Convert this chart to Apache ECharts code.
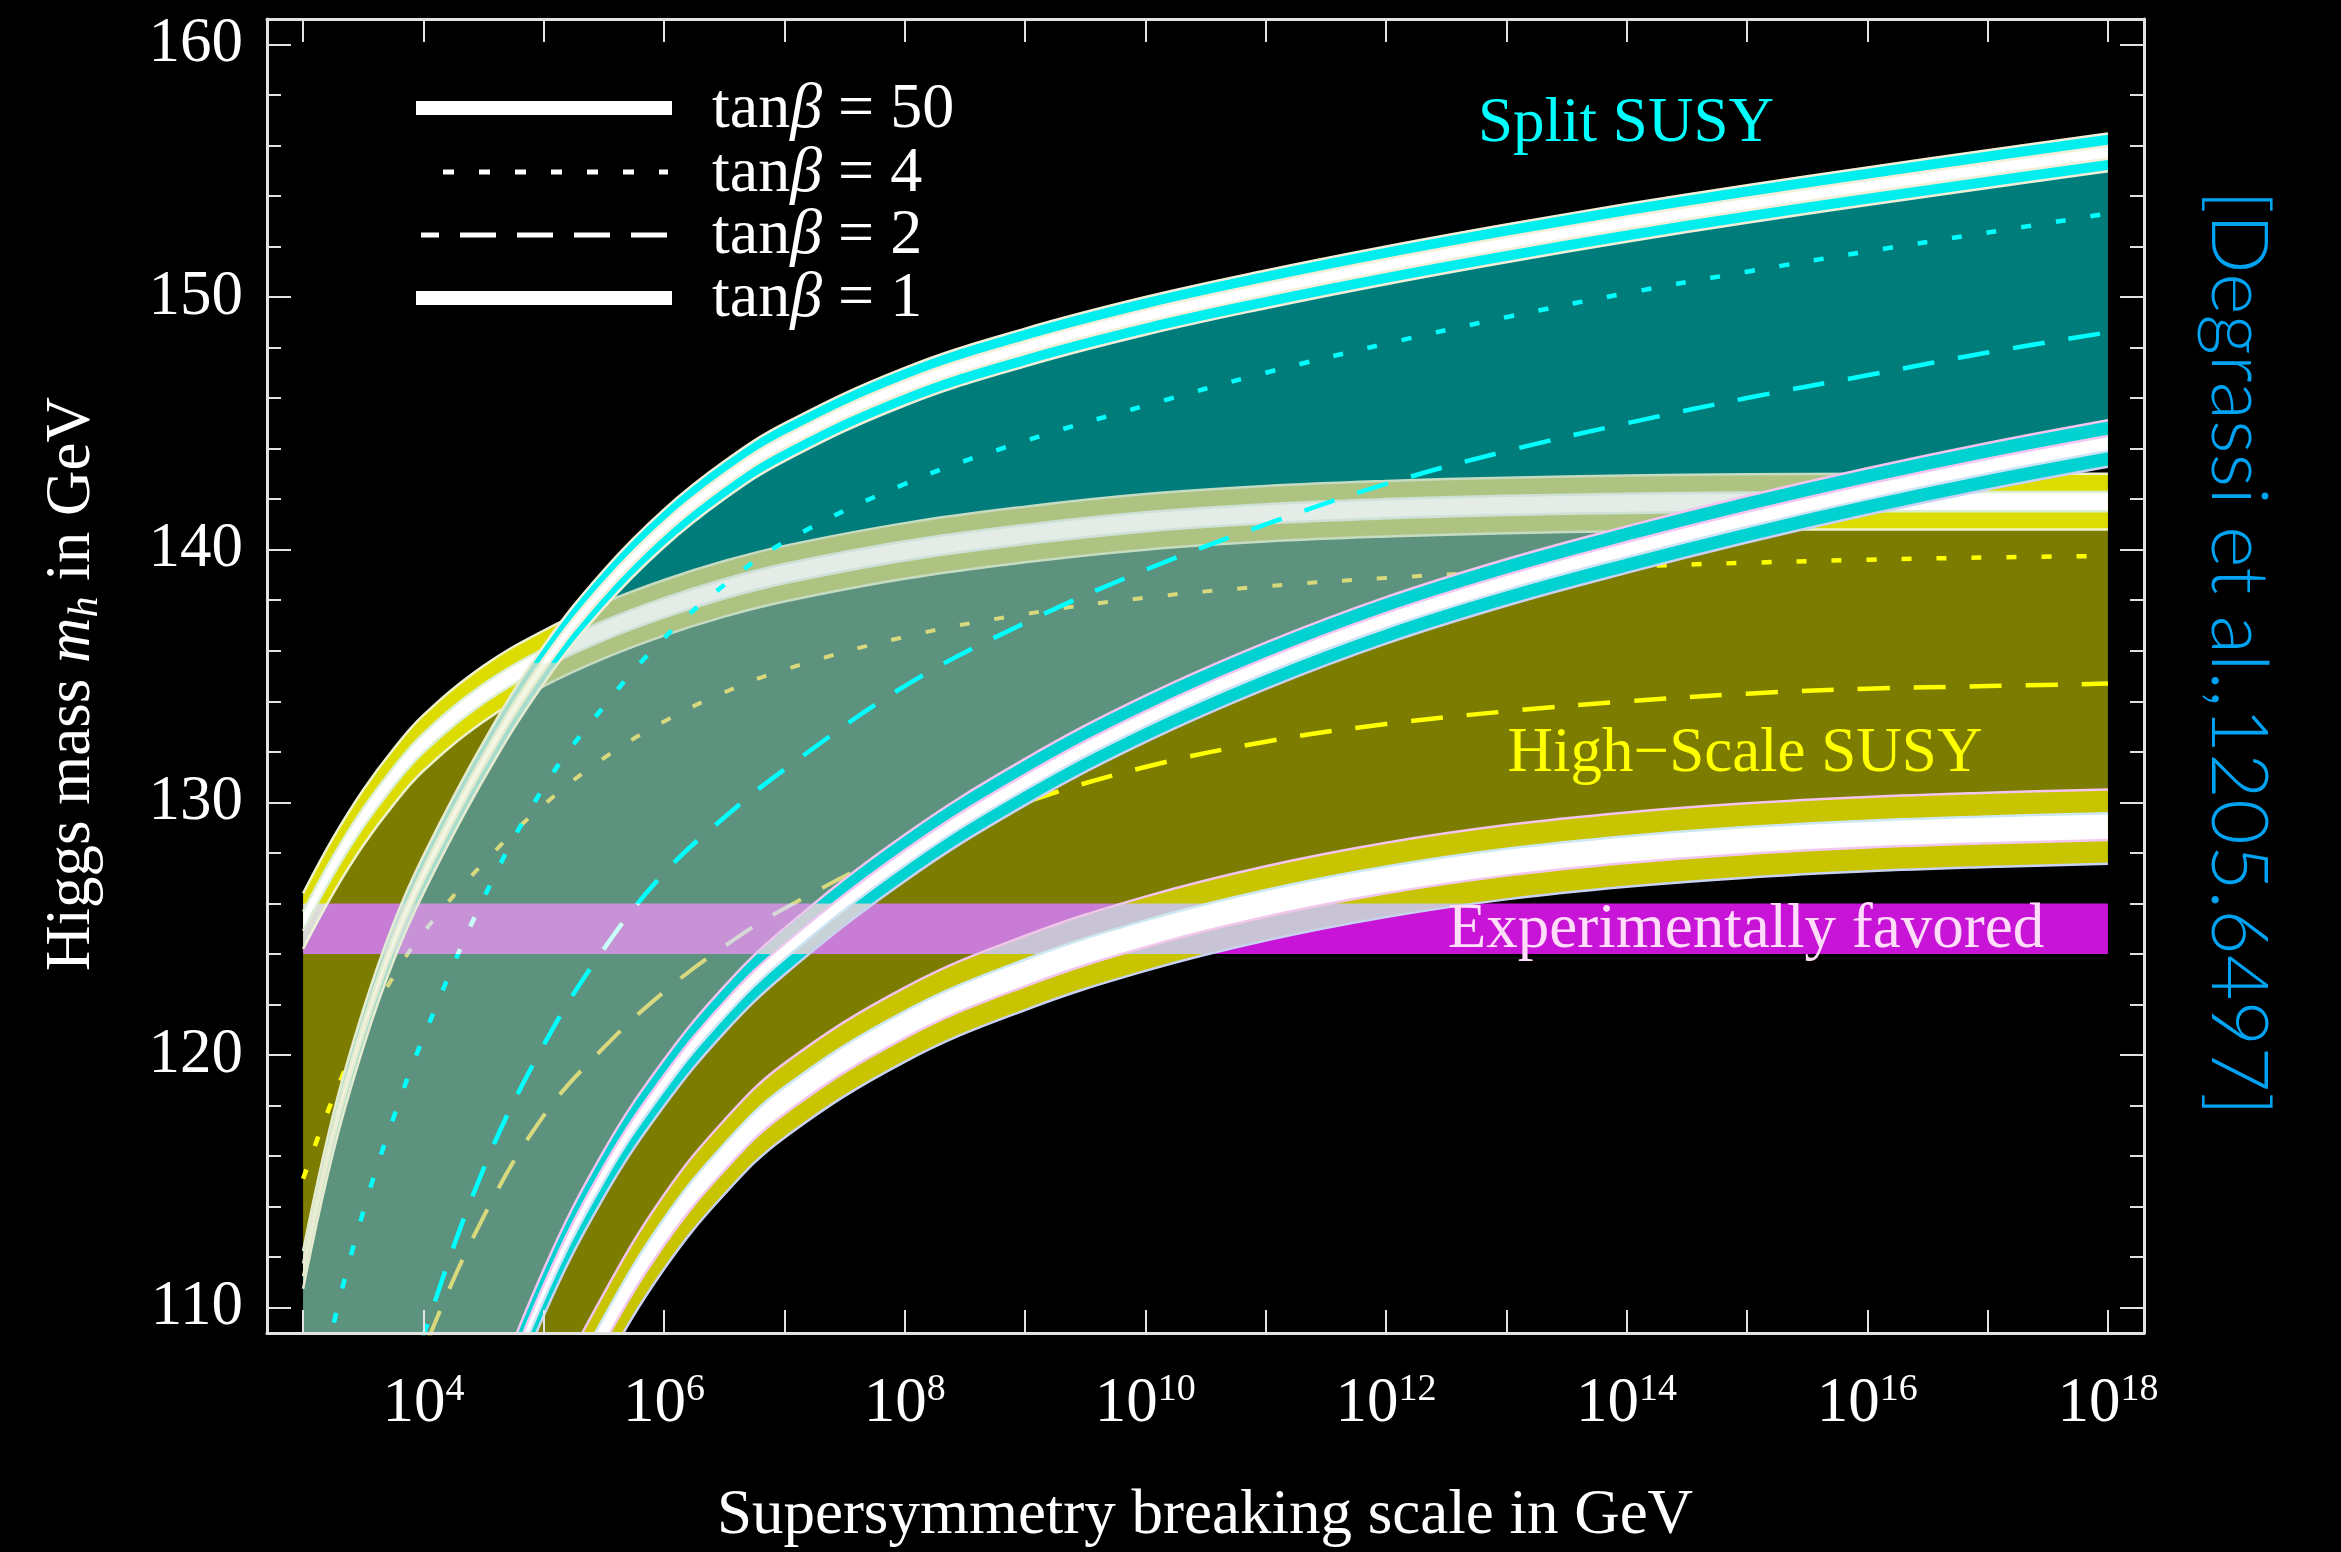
<!DOCTYPE html>
<html>
<head>
<meta charset="utf-8">
<title>Higgs mass versus supersymmetry breaking scale</title>
<script src="https://cdn.jsdelivr.net/npm/echarts@6/dist/echarts.min.js"></script>
<style>
  html, body { margin: 0; padding: 0; background: #000; }
  #chart { width: 2341px; height: 1552px; background: #000; }
</style>
</head>
<body>
<div id="chart"></div>
<script>
// ---------------- data ----------------
// log10 of the supersymmetry breaking scale (GeV)
const logScale = [3, 3.25, 3.5, 3.75, 4, 4.5, 5, 5.5, 6, 6.5, 7, 8, 9, 10, 11, 12, 13, 14, 15, 16, 17, 18];

// Split SUSY: Higgs mass (GeV) for tanβ = 50, 4, 2, 1
const splitTb50 = [111.5, 116.9, 121.05, 124.45, 127.15, 131.65, 135.45, 138.45, 140.85, 142.75, 144.25, 146.45, 148.0, 149.25, 150.3, 151.25, 152.12, 152.93, 153.68, 154.38, 155.06, 155.72];
const splitTb4  = [104.0, 109.3, 113.8, 117.5, 120.7, 126.2, 130.6, 133.8, 136.5, 138.6, 140.3, 142.6, 144.3, 145.7, 147.0, 148.15, 149.2, 150.15, 151.0, 151.8, 152.55, 153.3];
const splitTb2  = [91.0, 96.0, 100.5, 105.0, 108.9, 115.5, 120.4, 124.2, 127.2, 129.4, 131.3, 134.6, 137.1, 139.2, 141.0, 142.6, 143.9, 145.0, 146.0, 146.9, 147.8, 148.6];
const splitTb1  = [80.0, 84.5, 89.0, 93.0, 97.0, 104.5, 110.6, 115.3, 118.9, 121.8, 124.1, 127.8, 130.8, 133.3, 135.4, 137.2, 138.7, 140.0, 141.2, 142.3, 143.3, 144.2];

// High-scale SUSY: Higgs mass (GeV) for tanβ = 50, 4, 2, 1
const highTb50 = [125.3, 127.5, 129.4, 131.0, 132.35, 134.3, 135.7, 136.8, 137.7, 138.45, 139.05, 139.95, 140.6, 141.1, 141.42, 141.62, 141.75, 141.83, 141.88, 141.9, 141.9, 141.9];
const highTb4  = [115.1, 118.3, 120.95, 123.1, 124.85, 127.6, 129.9, 131.75, 133.2, 134.35, 135.25, 136.55, 137.45, 138.1, 138.55, 138.88, 139.13, 139.33, 139.48, 139.6, 139.69, 139.75];
const highTb2  = [94.0, 98.0, 101.5, 105.0, 108.3, 113.6, 117.6, 120.3, 122.5, 124.3, 125.8, 128.2, 130.0, 131.4, 132.4, 133.1, 133.6, 134.0, 134.3, 134.5, 134.6, 134.7];
const highTb1  = [74.0, 78.0, 82.0, 86.0, 92.0, 98.5, 104.4, 109.1, 113.0, 115.95, 118.2, 121.2, 123.25, 124.8, 126.0, 126.93, 127.63, 128.13, 128.49, 128.74, 128.91, 129.04];

// theory uncertainty half-widths (GeV): [outer band, inner core]
const splitTb50Spread = [0.745, 0.25];
const splitTb1Spread  = [0.92, 0.30];
const highTb50Spread  = [1.10, 0.38];
const highTb1Spread   = [1.47, 0.53];

// experimentally favoured Higgs mass window
const favoredScale = [3, 18];
const favoredLow   = [124, 124];
const favoredHigh  = [126, 126];

// axis ticks
const decadeTicks  = [3, 4, 5, 6, 7, 8, 9, 10, 11, 12, 13, 14, 15, 16, 17, 18];
const decadeLabels = [4, 6, 8, 10, 12, 14, 16, 18];
const massMajor = [110, 120, 130, 140, 150, 160];
const massMinor = [112, 114, 116, 118, 122, 124, 126, 128, 132, 134, 136, 138, 142, 144, 146, 148, 152, 154, 156, 158];

// ---------------- styling helpers ----------------
const SERIF = '"Liberation Serif", "Times New Roman", Times, serif';
const FRAME = '#e2e2e2';
const SMOOTH = 0.4;
const EDGE = 2.5;

const lineBase = { type: 'line', symbol: 'none', silent: true, smooth: SMOOTH, clip: true,
  animation: false, xAxisIndex: 0, yAxisIndex: 0, emphasis: { disabled: true } };

const series = [];
function add(list) { const first = series.length; series.push(...list); return first; }

let stackCount = 0;
const pairs = (xs, ys) => xs.map((x, i) => [x, ys[i]]);
const shift = (ys, d) => ys.map(v => v + d);

// filled region between two curves: a stacked pair of line series.
// Mass goes in the first column so that the stack sums masses, not scales.
function area(xs, lo, hi, color, z, blend) {
  const stack = 'region' + (stackCount++);
  const common = Object.assign({}, lineBase, { stack, z, blendMode: blend, encode: { x: 1, y: 0 },
    lineStyle: { width: 0, opacity: 0 } });
  return [
    Object.assign({}, common, { data: xs.map((x, i) => [lo[i], x]) }),
    Object.assign({}, common, { data: xs.map((x, i) => [hi[i] - lo[i], x]), areaStyle: { color, opacity: 1 } })
  ];
}

function curve(xs, ys, color, width, z, blend, dash) {
  return Object.assign({}, lineBase, { z, blendMode: blend, data: pairs(xs, ys),
    lineStyle: { color, width, type: dash || 'solid', cap: 'butt', join: 'round' } });
}

// thick theory band: coloured outer band, white core, thin pale edges.
// Returns the series indices of the outer fill, the core fill and the edge lines.
function thickBand(center, spread, c, z, blend) {
  const [o, k] = spread;
  const oLo = shift(center, -o), oHi = shift(center, o);
  const kLo = shift(center, -k), kHi = shift(center, k);
  const behind = blend === 'destination-over';
  const zo = behind ? z + 0.4 : z, zk = z + 0.2, ze = behind ? z : z + 0.4;
  const first = add([
    ...area(logScale, oLo, oHi, c.outer, zo, blend),
    ...area(logScale, kLo, kHi, c.core, zk, blend),
    curve(logScale, oHi, c.outerHi, EDGE, ze, blend),
    curve(logScale, oLo, c.outerLo, EDGE, ze, blend),
    curve(logScale, kHi, c.coreHi, EDGE, ze, blend),
    curve(logScale, kLo, c.coreLo, EDGE, ze, blend)
  ]);
  return { outer: first + 1, core: first + 3, edges: [first + 4, first + 5, first + 6, first + 7] };
}

const DOT = [10, 25];
const DASH = [32, 24];

const highTb50Bright = { outer: '#dcdc00', core: '#ffffff', outerHi: '#eef2cc', outerLo: '#eef2cc', coreHi: '#dcefd2', coreLo: '#dcefd2' };
const highTb50Pale   = { outer: '#aec382', core: '#e3ece7', outerHi: '#c6dcc2', outerLo: '#c6dcc2', coreHi: '#cfe0d6', coreLo: '#cfe0d6' };
const highTb1Style   = { outer: '#c8c400', core: '#ffffff', outerHi: '#f2c4ee', outerLo: '#c9d2f2', coreHi: '#cde8f4', coreLo: '#f2c8f0' };
const splitTb50Style = { outer: '#00eeee', core: '#ffffff', outerHi: '#f2eed8', outerLo: '#f2eed8', coreHi: '#f2eed8', coreLo: '#f2eed8' };
// washed-out look of the split tanβ=50 band inside the high-scale region (below ~135.5 GeV)
const splitTb50Faded = { below: 135.5, outer: '#a6dccb', core: '#f4f6e6', edge: '#e6ebcf' };
const splitTb1Style  = { outer: '#00d2d2', core: '#ffffff', outerHi: '#f2c4ee', outerLo: '#c9d2f2', coreHi: '#f2c8f0', coreLo: '#cde4f4' };

// split SUSY region (teal)
add(area(logScale, splitTb1, splitTb50, '#007c7a', 1));
// overlap of the two regions, painted only where the split region exists
add(area(logScale, highTb1, highTb50, '#5c927e', 2, 'source-atop'));
// high-scale tanβ=50 band and lines seen through the split region
thickBand(highTb50, highTb50Spread, highTb50Pale, 3, 'source-atop');
add([curve(logScale, highTb4, '#d8d87c', 4, 4, 'source-atop', DOT),
     curve(logScale, highTb2, '#d8d87c', 4, 4, 'source-atop', DASH)]);
// the same, outside the split region (painted behind)
thickBand(highTb50, highTb50Spread, highTb50Bright, 5, 'destination-over');
add([curve(logScale, highTb4, '#ffff00', 4.5, 6, 'destination-over', DOT),
     curve(logScale, highTb2, '#ffff00', 4.5, 6, 'destination-over', DASH)]);
// high-scale SUSY region (olive)
add(area(logScale, highTb1, highTb50, '#7c7c00', 7, 'destination-over'));
// bands drawn on top
thickBand(highTb1, highTb1Spread, highTb1Style, 8);
const splitTb50Parts = thickBand(splitTb50, splitTb50Spread, splitTb50Style, 9);
thickBand(splitTb1, splitTb1Spread, splitTb1Style, 10);
add([curve(logScale, splitTb4, '#00ffff', 4.5, 11, null, DOT),
     curve(logScale, splitTb2, '#00ffff', 4.5, 11, null, DASH)]);
// experimentally favoured window
add(area(favoredScale, favoredLow, favoredHigh, '#c814d6', 12, 'lighten'));

// ---------------- axes ----------------
const tickStyle = { color: FRAME, width: 2 };
const frameLine = { show: true, onZero: false, lineStyle: { color: FRAME, width: 3 } };

function xAx(position, labels) {
  return {
    type: 'value', min: 2.7, max: 18.3, position, z: 20,
    axisLine: frameLine,
    axisTick: { show: true, inside: true, length: 23, customValues: decadeTicks, lineStyle: tickStyle },
    axisLabel: labels ? {
      show: true, customValues: decadeLabels, margin: 33,
      formatter: v => '{b|10}{s|' + v + '}',
      rich: {
        b: { fontFamily: SERIF, fontSize: 63, color: '#ffffff', lineHeight: 70, verticalAlign: 'bottom' },
        s: { fontFamily: SERIF, fontSize: 38, color: '#ffffff', lineHeight: 38, verticalAlign: 'top', padding: [5, 0, 0, 0] }
      }
    } : { show: false },
    splitLine: { show: false }
  };
}
function yAx(position, ticks, len, line, labels) {
  return {
    type: 'value', min: 109, max: 161, position, z: 20,
    axisLine: line ? frameLine : { show: false },
    axisTick: { show: true, inside: true, length: len, customValues: ticks, lineStyle: tickStyle },
    axisLabel: labels ? { show: true, customValues: ticks, margin: 24, fontFamily: SERIF, fontSize: 63, color: '#ffffff' } : { show: false },
    splitLine: { show: false }
  };
}

// ---------------- annotations ----------------
const white = '#ffffff';
function label(text, x, y, fill, extra) {
  return { type: 'text', x, y, z: 100, silent: true,
    style: Object.assign({ text, fill, fontFamily: SERIF, fontSize: 63, align: 'center', verticalAlign: 'middle' }, extra || {}) };
}
const tanRich = {
  n: { fontFamily: SERIF, fontSize: 64, fill: white },
  g: { fontFamily: SERIF, fontSize: 64, fill: white, fontStyle: 'italic' }
};
function legendText(value, y) {
  return { type: 'text', x: 712, y, z: 100, silent: true,
    style: { text: '{n|tan}{g|β}{n| = ' + value + '}', rich: tanRich, align: 'left', verticalAlign: 'middle' } };
}
function legendLine(x1, x2, y, width, dash) {
  return { type: 'line', z: 100, silent: true, shape: { x1, y1: y, x2, y2: y },
    style: { stroke: white, lineWidth: width, lineDash: dash || null, lineCap: 'butt' } };
}

const graphics = [
  // legend
  legendLine(416, 672, 108, 14),
  legendLine(443, 668, 172, 5, [11, 25]),
  legendLine(667, 421, 235, 5, [36, 21]),
  legendLine(416, 672, 298, 14),
  legendText('50', 110), legendText('4', 174), legendText('2', 236), legendText('1', 299),
  // region names
  label('Split SUSY', 1626, 124, '#00ffff'),
  label('High\u2212Scale SUSY', 1745, 754, '#ffff00'),
  label('Experimentally favored', 1746, 930, '#ffdcfa'),
  // axis titles
  label('Supersymmetry breaking scale in GeV', 1205, 1516, white),
  { type: 'text', x: 72, y: 684, rotation: Math.PI / 2, z: 100, silent: true,
    style: { text: '{r|Higgs mass }{i|m}{h|h}{r| in GeV}', align: 'center', verticalAlign: 'middle',
      rich: {
        r: { fontFamily: SERIF, fontSize: 63, fill: white, lineHeight: 70, verticalAlign: 'middle' },
        i: { fontFamily: SERIF, fontSize: 63, fill: white, fontStyle: 'italic', lineHeight: 70, verticalAlign: 'middle' },
        h: { fontFamily: SERIF, fontSize: 42, fill: white, fontStyle: 'italic', lineHeight: 42, verticalAlign: 'bottom' }
      } } },
  // reference
  { type: 'text', x: 2237, y: 653, rotation: -Math.PI / 2, z: 100, silent: true,
    style: { text: '[Degrassi et al.,1205.6497]', fill: '#00a2f2', fontFamily: 'Lato, "DejaVu Sans", sans-serif',
      fontWeight: 300, fontSize: 79, align: 'center', verticalAlign: 'middle' } }
];

const option = {
  animation: false,
  backgroundColor: 'transparent',
  grid: { left: 267, top: 19, width: 1877, height: 1314, show: false, outerBoundsMode: 'none' },
  xAxis: [xAx('bottom', true), xAx('top', false)],
  yAxis: [
    yAx('left', massMajor, 24, true, true),
    yAx('left', massMinor, 14, false, false),
    yAx('right', massMajor, 24, true, false),
    yAx('right', massMinor, 14, false, false)
  ],
  series,
  graphic: graphics
};

const chart = echarts.init(document.getElementById('chart'), null, { renderer: 'canvas', width: 2341, height: 1552 });
chart.setOption(option);

// Fade the split tanβ=50 band where it runs through the high-scale region:
// a hard-edged vertical gradient cut at the mass given by the axis scale.
const H = chart.getHeight();
const cut = chart.convertToPixel({ yAxisIndex: 0 }, splitTb50Faded.below) / H;
const fade = (above, below) => ({ type: 'linear', x: 0, y: 0, x2: 0, y2: H, global: true,
  colorStops: [{ offset: 0, color: above }, { offset: cut, color: above },
               { offset: cut, color: below }, { offset: 1, color: below }] });
const patch = series.map(() => ({}));
patch[splitTb50Parts.outer] = { areaStyle: { color: fade(splitTb50Style.outer, splitTb50Faded.outer) } };
patch[splitTb50Parts.core] = { areaStyle: { color: fade(splitTb50Style.core, splitTb50Faded.core) } };
splitTb50Parts.edges.forEach(i => { patch[i] = { lineStyle: { color: fade(splitTb50Style.outerHi, splitTb50Faded.edge) } }; });
chart.setOption({ series: patch });
</script>
</body>
</html>
